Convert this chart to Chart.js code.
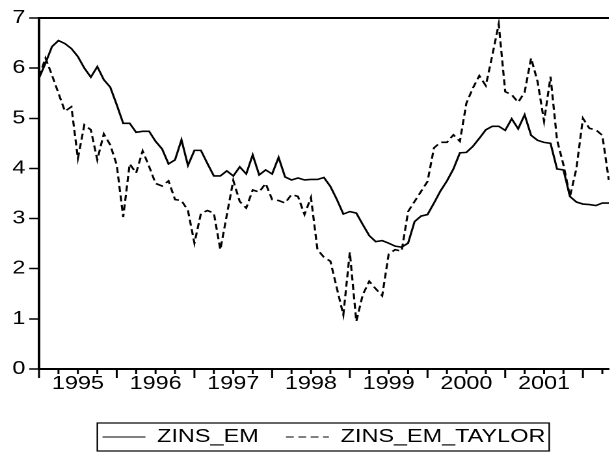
<!DOCTYPE html>
<html>
<head>
<meta charset="utf-8">
<script src="https://cdn.jsdelivr.net/npm/chart.js@4.4.1/dist/chart.umd.min.js"></script>
<style>
body { margin:0; background:#fff; }
#box { width:614px; height:454px; overflow:hidden; background:#fff; }
#chart { transform-origin:0 0; }
</style>
</head>
<body>
<div id="box"><canvas id="chart" width="472" height="454"></canvas></div>
<script>
// monthly series, 1995M01 .. 2002M05
var firstYear = 1995;
var yearLabels = ['1995', '1996', '1997', '1998', '1999', '2000', '2001'];

var zinsEm = [
  5.80, 6.10, 6.43, 6.55, 6.49, 6.39, 6.23, 6.00, 5.82, 6.03, 5.77, 5.62,
  5.27, 4.90, 4.90, 4.72, 4.74, 4.74, 4.54, 4.39, 4.09, 4.17, 4.57, 4.06,
  4.36, 4.36, 4.10, 3.85, 3.85, 3.95, 3.85, 4.03, 3.89, 4.27, 3.87, 3.97,
  3.89, 4.22, 3.83, 3.77, 3.81, 3.77, 3.78, 3.78, 3.82, 3.64, 3.38, 3.09,
  3.14, 3.11, 2.88, 2.66, 2.54, 2.56, 2.51, 2.45, 2.43, 2.51, 2.94, 3.05,
  3.08, 3.31, 3.55, 3.75, 3.99, 4.31, 4.32, 4.44, 4.60, 4.77, 4.84, 4.84,
  4.76, 4.99, 4.79, 5.07, 4.66, 4.56, 4.52, 4.50, 3.99, 3.97, 3.44, 3.33,
  3.29, 3.28, 3.26, 3.31, 3.31
];

var zinsEmTaylor = [
  5.83, 6.20, 5.86, 5.50, 5.14, 5.23, 4.20, 4.87, 4.77, 4.17, 4.69, 4.47,
  4.07, 3.03, 4.09, 3.91, 4.35, 4.04, 3.70, 3.65, 3.75, 3.38, 3.36, 3.16,
  2.51, 3.10, 3.16, 3.11, 2.38, 3.07, 3.76, 3.34, 3.21, 3.57, 3.53, 3.70,
  3.38, 3.36, 3.31, 3.48, 3.44, 3.08, 3.42, 2.38, 2.23, 2.15, 1.61, 1.08,
  2.33, 0.95, 1.48, 1.75, 1.60, 1.46, 2.29, 2.38, 2.35, 3.14, 3.34, 3.54,
  3.74, 4.41, 4.52, 4.52, 4.67, 4.54, 5.30, 5.60, 5.85, 5.65, 6.25, 6.88,
  5.53, 5.47, 5.32, 5.52, 6.20, 5.73, 4.94, 5.83, 4.57, 4.07, 3.44, 4.00,
  5.00, 4.80, 4.77, 4.66, 3.77
];

var months = [];
for (let i = 0; i < zinsEm.length; i++) {
  months.push((firstYear + Math.floor(i / 12)) + 'M' + String(i % 12 + 1).padStart(2, '0'));
}

// the original graph is stretched sideways, so draw narrow and widen it
var SX = 614 / 472;
document.getElementById('chart').style.transform = 'scaleX(' + SX + ')';

var tickFont = { family: "'Liberation Sans', Arial, Helvetica, sans-serif", size: 18 };

// top border, x tick marks and the box round the legend
var framePlugin = {
  id: 'frame',
  afterDraw(chart) {
    const ctx = chart.ctx;
    const a = chart.chartArea;
    const x = chart.scales.x;
    ctx.save();
    ctx.strokeStyle = '#000';
    ctx.lineWidth = 2;
    ctx.beginPath();
    ctx.moveTo(a.left, a.top);
    ctx.lineTo(a.right, a.top);
    ctx.stroke();
    ctx.lineWidth = 1.5;
    for (let i = 0; i < months.length; i += 3) {
      const px = x.getPixelForValue(i);
      ctx.beginPath();
      ctx.moveTo(px, a.bottom);
      ctx.lineTo(px, a.bottom + (i % 12 === 0 ? 9 : 5));
      ctx.stroke();
    }
    const hb = chart.legend.legendHitBoxes;
    if (hb && hb.length) {
      const last = hb[hb.length - 1];
      const l = hb[0].left - 4;
      const r = last.left + last.width + 3;
      const cy = hb[0].top + hb[0].height / 2;
      ctx.lineWidth = 1.2;
      ctx.strokeRect(l, cy - 14, r - l, 28);
    }
    ctx.restore();
  }
};

var ctx = document.getElementById('chart').getContext('2d');
var myChart = new Chart(ctx, {
  type: 'line',
  data: {
    labels: months,
    datasets: [{
      label: 'ZINS_EM',
      data: zinsEm,
      borderColor: '#000',
      borderWidth: 1.6,
      pointRadius: 0,
      tension: 0
    }, {
      label: 'ZINS_EM_TAYLOR',
      data: zinsEmTaylor,
      borderColor: '#000',
      borderWidth: 1.6,
      borderDash: [6, 3.5],
      pointRadius: 0,
      tension: 0
    }]
  },
  options: {
    responsive: false,
    animation: false,
    devicePixelRatio: 2,
    layout: { padding: { top: 18, right: 0, bottom: -2, left: 0 } },
    plugins: {
      tooltip: { enabled: false },
      legend: {
        position: 'bottom',
        fullSize: false,
        labels: {
          color: '#000',
          font: tickFont,
          usePointStyle: true,
          pointStyle: 'line',
          pointStyleWidth: 33,
          padding: 21,
          generateLabels(chart) {
            const items = Chart.defaults.plugins.legend.labels.generateLabels(chart);
            items.forEach(function (it) {
              const ds = chart.data.datasets[it.datasetIndex];
              it.lineDash = ds.borderDash || [];
              it.lineWidth = 1;
              it.strokeStyle = '#000';
              it.pointStyle = 'line';
            });
            return items;
          }
        }
      }
    },
    scales: {
      x: {
        type: 'category',
        offset: false,
        grid: { display: false, drawTicks: false },
        border: { color: '#000', width: 2 },
        ticks: {
          autoSkip: false,
          maxRotation: 0,
          color: '#000',
          font: tickFont,
          padding: 4,
          callback: function (v, i) {
            return i % 12 === 6 ? yearLabels[Math.floor(i / 12)] : '';
          }
        },
        afterFit(s) { s.height = 38; }
      },
      y: {
        min: 0,
        max: 7,
        grid: { drawOnChartArea: false, tickLength: 7.5, tickWidth: 1.5, tickColor: '#000' },
        border: { color: '#000', width: 2 },
        ticks: { stepSize: 1, color: '#000', font: tickFont, padding: 3 },
        afterFit(s) { s.width = 30; }
      }
    }
  },
  plugins: [framePlugin]
});
</script>
</body>
</html>
